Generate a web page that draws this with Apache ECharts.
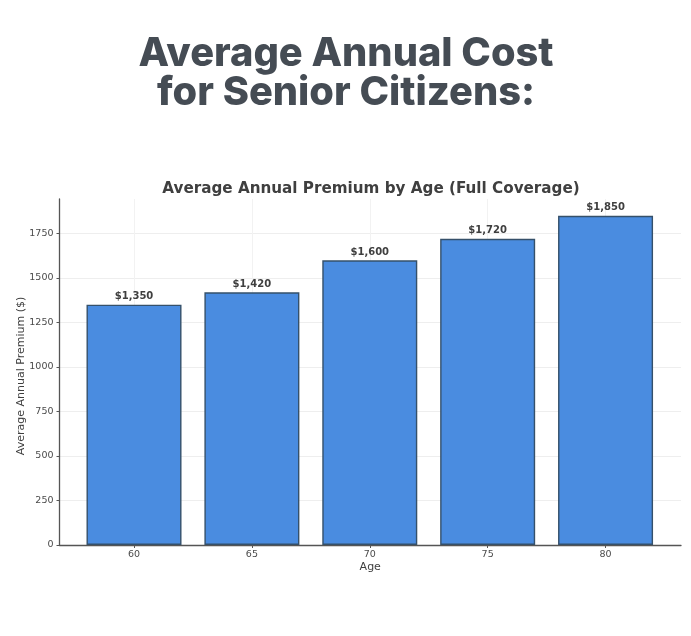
<!DOCTYPE html>
<html>
<head>
<meta charset="utf-8">
<style>
  html, body { margin: 0; padding: 0; background: #fff; }
  #chart { width: 691px; height: 636px; }
</style>
<script src="https://cdn.jsdelivr.net/npm/echarts@6/dist/echarts.min.js"></script>
</head>
<body>
<div id="chart"></div>
<script>
const ages = [60, 65, 70, 75, 80];
const premiums = [1350, 1420, 1600, 1720, 1850];
const yTicks = [0, 250, 500, 750, 1000, 1250, 1500, 1750];

const chart = echarts.init(document.getElementById('chart'));
const ink = '#3f3f3f';
const tickFont = { fontFamily: 'DejaVu Sans', fontSize: 9.5, color: '#4a4a4a' };

chart.setOption({
  animation: false,
  backgroundColor: '#fff',
  title: [
    {
      text: 'Average Annual Cost\nfor Senior Citizens:',
      left: 341, top: 30, textAlign: 'center',
      textStyle: { fontFamily: 'Inter', fontWeight: 800, fontSize: 39.8, lineHeight: 39, color: '#454c54' }
    },
    {
      text: 'Average Annual Premium by Age (Full Coverage)',
      left: 366, top: 177, textAlign: 'center',
      textStyle: { fontFamily: 'DejaVu Sans', fontWeight: 'bold', fontSize: 15.2, color: ink }
    }
  ],
  grid: { left: 59.5, right: 10, top: 199, bottom: 91 },
  xAxis: {
    type: 'value', min: 56.84, max: 83.2,
    name: 'Age', nameLocation: 'middle', nameGap: 17, nameMoveOverlap: false,
    nameTextStyle: { fontFamily: 'DejaVu Sans', fontSize: 11, color: ink },
    axisLine: { lineStyle: { color: '#555', width: 1.3 } },
    axisTick: { length: 3, customValues: ages, lineStyle: { color: '#555' } },
    axisLabel: { ...tickFont, customValues: ages, margin: 5 },
    splitLine: { show: true, lineStyle: { color: '#f2f2f2' } }
  },
  yAxis: {
    type: 'value', min: 0, max: 1944,
    name: 'Average Annual Premium ($)', nameLocation: 'middle', nameGap: 33, nameMoveOverlap: false,
    nameTextStyle: { fontFamily: 'DejaVu Sans', fontSize: 11, color: ink, padding: [0, 8, 0, 0] },
    axisLine: { show: true, lineStyle: { color: '#555', width: 1.3 } },
    axisTick: { show: true, length: 3, customValues: yTicks, lineStyle: { color: '#555' } },
    axisLabel: { ...tickFont, customValues: yTicks, margin: 6, formatter: v => String(v) },
    splitLine: { show: true, lineStyle: { color: '#eeeeee' } }
  },
  series: [{
    type: 'bar',
    data: ages.map((a, i) => [a, premiums[i]]),
    barWidth: 95,
    itemStyle: { color: '#4a8ce0', borderColor: '#35506a', borderWidth: 1.4 },
    label: {
      show: true, position: 'top', distance: 3,
      fontFamily: 'DejaVu Sans', fontWeight: 'bold', fontSize: 10, color: ink,
      formatter: p => '$' + p.value[1].toLocaleString('en-US')
    }
  }]
});
</script>
</body>
</html>
